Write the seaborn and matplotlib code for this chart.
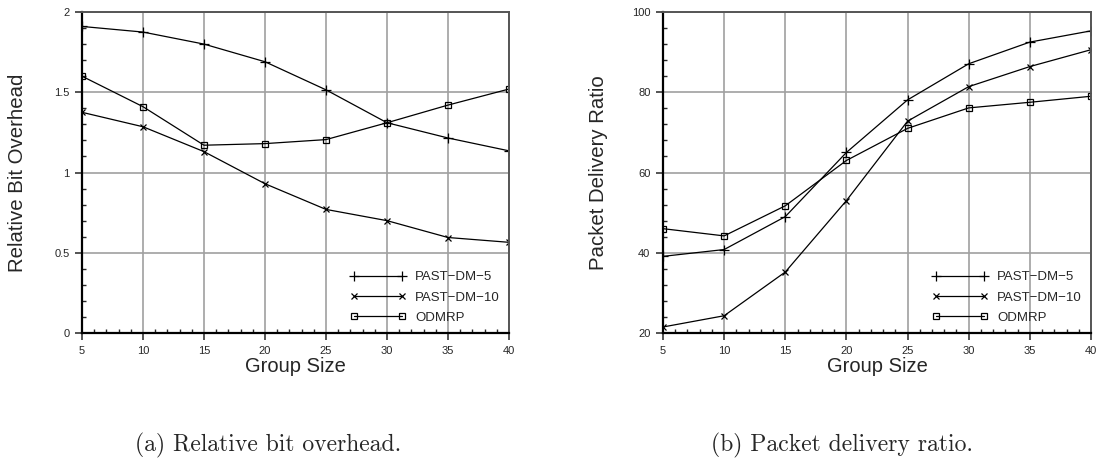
import numpy as np
import pandas as pd
import seaborn as sns
import matplotlib.pyplot as plt
from matplotlib.ticker import MultipleLocator

sns.set_style('ticks')
plt.rcParams['font.family'] = ['Liberation Sans', 'DejaVu Sans']

group_size = [5, 10, 15, 20, 25, 30, 35, 40]
series_names = ['PAST\u2212DM\u22125', 'PAST\u2212DM\u221210', 'ODMRP']

# relative bit overhead
rbo_dm5 = [1.91, 1.875, 1.80, 1.69, 1.515, 1.31, 1.215, 1.135]
rbo_dm10 = [1.375, 1.285, 1.13, 0.93, 0.77, 0.70, 0.595, 0.565]
rbo_odmrp = [1.60, 1.41, 1.17, 1.18, 1.205, 1.31, 1.42, 1.52]

# packet delivery ratio
pdr_dm5 = [39.1, 40.8, 49.0, 65.0, 78.1, 87.1, 92.5, 95.3]
pdr_dm10 = [21.5, 24.3, 35.2, 53.0, 72.8, 81.4, 86.4, 90.6]
pdr_odmrp = [46.0, 44.2, 51.7, 63.0, 71.0, 76.1, 77.5, 79.0]

markers = ['+', 'x', 's']
msizes = [7, 5, 4.5]

fig = plt.figure(figsize=(11.01, 4.65), dpi=100)
ax1 = fig.add_axes([82 / 1101, 1 - 333 / 465, 427 / 1101, 321 / 465])
ax2 = fig.add_axes([663 / 1101, 1 - 333 / 465, 428 / 1101, 321 / 465])


def draw(ax, values, ylim, ystep, yminor, ylabel):
    for name, vals, m, ms in zip(series_names, values, markers, msizes):
        df = pd.DataFrame({'Group Size': group_size, 'value': vals})
        sns.lineplot(data=df, x='Group Size', y='value', ax=ax, color='black',
                     marker=m, markersize=ms, mfc='none', mec='black', mew=0.9,
                     lw=0.9, label=name)
    ax.set_xlim(5, 40)
    ax.set_ylim(*ylim)
    ax.xaxis.set_major_locator(MultipleLocator(5))
    ax.xaxis.set_minor_locator(MultipleLocator(1))
    ax.yaxis.set_major_locator(MultipleLocator(ystep))
    ax.yaxis.set_minor_locator(MultipleLocator(yminor))
    ax.grid(True, which='major', color='#a0a0a0', lw=1.2)
    ax.set_axisbelow(True)
    ax.tick_params(which='major', direction='out', length=5, width=1.1,
                   labelsize=8, pad=4)
    ax.tick_params(which='minor', direction='in', length=3, width=1)
    for s in ['left', 'bottom']:
        ax.spines[s].set_color('black')
        ax.spines[s].set_linewidth(1.6)
    for s in ['top', 'right']:
        ax.spines[s].set_color('#555555')
        ax.spines[s].set_linewidth(1.4)
    ax.set_xlabel('Group Size', fontsize=14.5, labelpad=1)
    ax.set_ylabel(ylabel, fontsize=14.7)
    ax.yaxis.set_label_coords(-55 / 427, 0.5)
    ax.legend(loc='lower right', frameon=False, numpoints=2, handlelength=4.2,
              fontsize=9.5, labelspacing=0.6, borderaxespad=0.3,
              handletextpad=0.7)


draw(ax1, [rbo_dm5, rbo_dm10, rbo_odmrp], (0, 2), 0.5, 0.1, 'Relative Bit Overhead')
ax1.set_yticks([0, 0.5, 1, 1.5, 2])
ax1.set_yticklabels(['0', '0.5', '1', '1.5', '2'])
draw(ax2, [pdr_dm5, pdr_dm10, pdr_odmrp], (20, 100), 20, 4, 'Packet Delivery Ratio')

fig.text(268 / 1101, 1 - 445 / 465, '(a) Relative bit overhead.', family='cmr10',
         fontsize=17, ha='center', va='center')
fig.text(842 / 1101, 1 - 445 / 465, '(b) Packet delivery ratio.', family='cmr10',
         fontsize=17, ha='center', va='center')

fig.savefig('out.png', dpi=100)
